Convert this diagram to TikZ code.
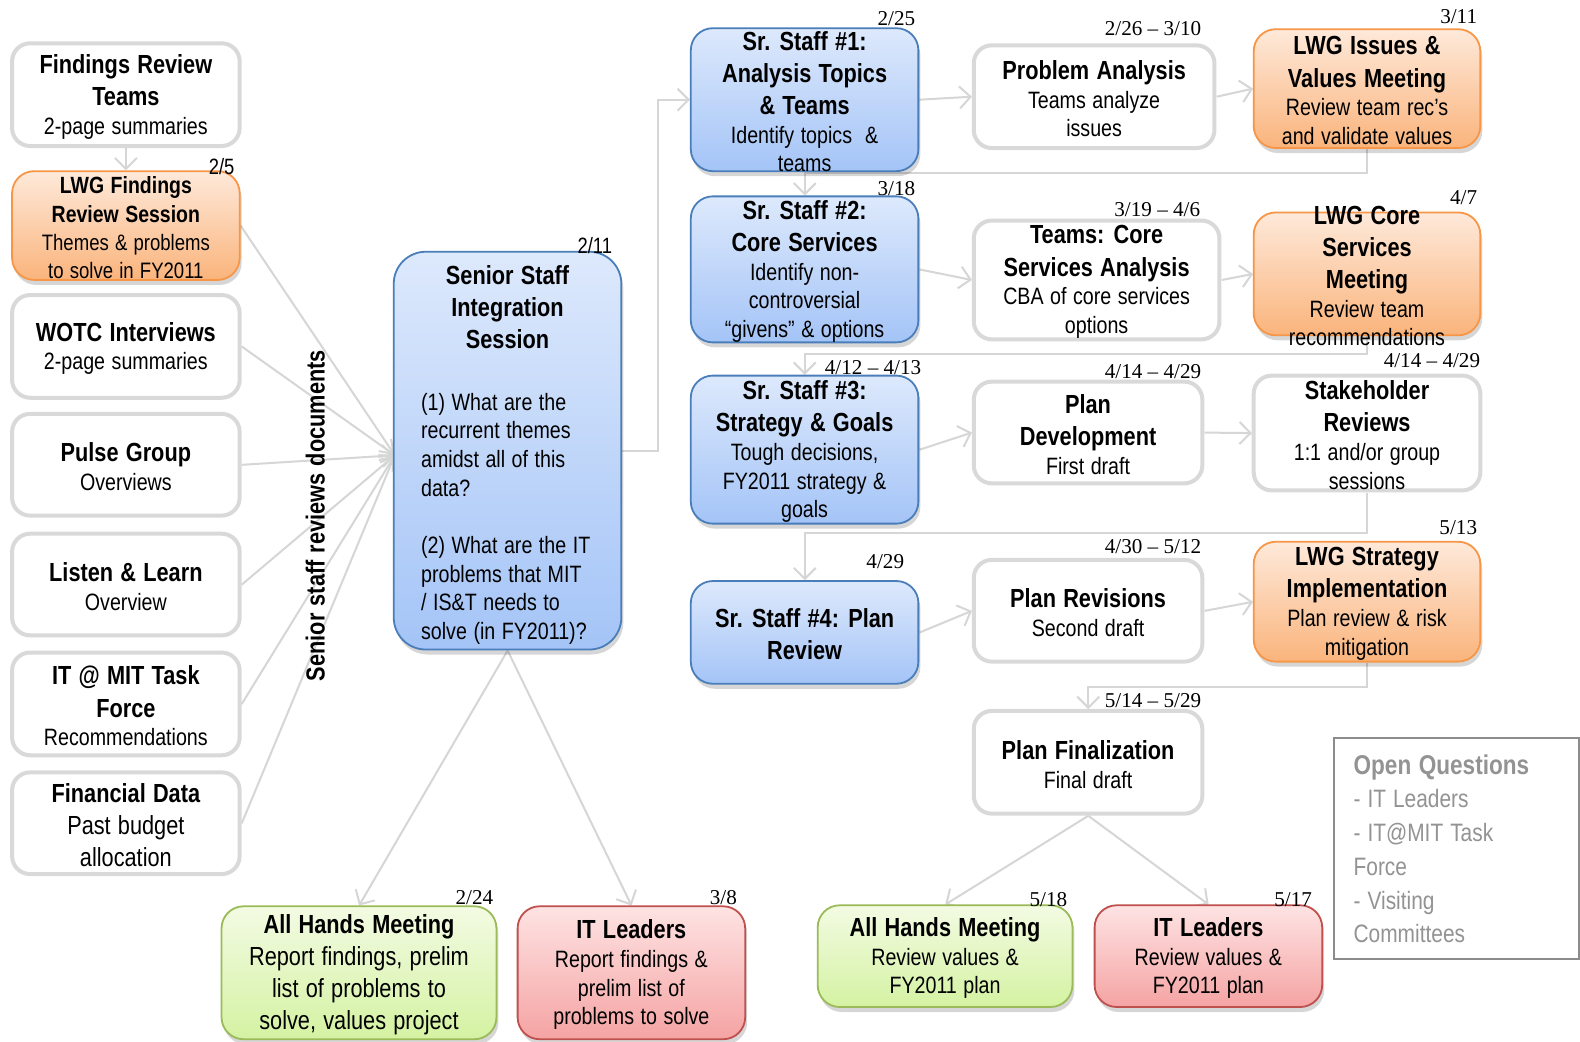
\documentclass[tikz,border=0pt]{standalone}
\usepackage{fontspec}
\setmainfont[FakeStretch=0.83,WordSpace=1.2]{Liberation Sans}
\newfontfamily\datefont{Liberation Serif}
\usetikzlibrary{arrows.meta,shadows,backgrounds}
\setlength\parindent{0pt}
\setlength\parskip{0pt}
\definecolor{wline}{HTML}{D9D9D9}
\definecolor{linegray}{HTML}{D6D6D6}
\definecolor{bline}{HTML}{4A7EBB}
\definecolor{btop}{HTML}{DDE9FC}
\definecolor{bbot}{HTML}{A4C4F7}
\definecolor{oline}{HTML}{F79646}
\definecolor{otop}{HTML}{FEE9DA}
\definecolor{obot}{HTML}{FAB47C}
\definecolor{gline}{HTML}{9BBB59}
\definecolor{gtop}{HTML}{F3FBE3}
\definecolor{gbot}{HTML}{D4F2A2}
\definecolor{rline}{HTML}{C0504D}
\definecolor{rtop}{HTML}{FEE3E3}
\definecolor{rbot}{HTML}{F5A3A3}
\definecolor{oqline}{HTML}{8C8C8C}
\definecolor{oqtext}{HTML}{939393}
\newcommand\Ttl{\fontsize{26}{32}\selectfont\bfseries}
\newcommand\Sbt{\fontsize{23.5}{28.5}\selectfont\mdseries}
\newcommand\bx[7]{%
  \node[#1,minimum width=#5pt,minimum height=#6pt] (#2) at (#3,#4) {};
  \node[txt] (#2t) at (#3,{#4+2}) {#7};}
\begin{document}
\begin{tikzpicture}[x=1pt,y=-1pt,scale=1.007,every node/.append style={transform shape},
  wbox/.style={draw=wline,line width=4pt,fill=white,rounded corners=18pt,inner sep=0pt},
  cbox/.style={line width=1.8pt,rounded corners=22pt,inner sep=0pt,
    drop shadow={shadow xshift=2pt,shadow yshift=-5pt,opacity=0.16,fill=black}},
  bbox/.style={cbox,draw=bline,top color=btop,bottom color=bbot},
  obox/.style={cbox,draw=oline,top color=otop,bottom color=obot},
  gbox/.style={cbox,draw=gline,top color=gtop,bottom color=gbot},
  rbox/.style={cbox,draw=rline,top color=rtop,bottom color=rbot},
  txt/.style={text width=320pt,align=flush center,inner sep=0pt},
  datelbl/.style={anchor=base east,inner sep=0pt,font=\datefont\fontsize{21}{25}\selectfont},
  sdatelbl/.style={anchor=base east,inner sep=0pt,font=\fontsize{22}{26}\selectfont},
  conn/.style={draw=linegray,line width=2pt,-{Straight Barb[length=11pt,width=22pt]}}]
\useasboundingbox (0,0) rectangle (1569.02,1034.76);

% left column
\bx{wbox}{frt}{125}{94}{226}{102}{{\Ttl Findings Review\\Teams\par}{\Sbt 2-page summaries\par}}
\bx{obox}{lwgf}{125}{224}{226}{108}{{\fontsize{23.3}{29}\selectfont\bfseries LWG Findings\\Review Session\par}{\fontsize{22.2}{28}\selectfont Themes \& problems\\to solve in FY2011\par}}
\bx{wbox}{wotc}{125}{344}{226}{102}{{\Ttl WOTC Interviews\par}{\Sbt 2-page summaries\par}}
\bx{wbox}{pulse}{125}{461.5}{226}{101}{{\Ttl Pulse Group\par}{\Sbt Overviews\par}}
\bx{wbox}{listen}{125}{580.5}{226}{101}{{\Ttl Listen \& Learn\par}{\Sbt Overview\par}}
\bx{wbox}{itmit}{125}{699}{226}{102}{{\Ttl IT @ MIT Task\\Force\par}{\Sbt Recommendations\par}}
\bx{wbox}{fin}{125}{817.5}{226}{101}{{\Ttl Financial Data\par}{\fontsize{26}{32}\selectfont Past budget\\allocation\par}}

\node[rotate=90,font=\Ttl,inner sep=0pt] (srd) at (313,512) {Senior staff reviews documents};

% senior staff integration
\node[bbox,rounded corners=32pt,minimum width=226pt,minimum height=395pt] (ss) at (504,447.5) {};
\node[txt] (sst) at (504,305) {{\Ttl Senior Staff\\Integration\\Session\par}};
\node[anchor=north west,text width=200pt,align=flush left,inner sep=0pt,font=\Sbt] (ssq) at (418,390)
  {(1) What are the\\recurrent themes\\amidst all of this\\data?\\[28.5pt](2) What are the IT\\problems that MIT\\/ IS\&T needs to\\solve (in FY2011)?};

% senior staff sessions
\bx{bbox}{sr1}{799}{99}{226}{142}{{\Ttl Sr. Staff \#1:\\Analysis Topics\\\& Teams\par}{\Sbt Identify topics ~\&\\teams\par}}
\bx{bbox}{sr2}{799}{267.5}{226}{145}{{\Ttl Sr. Staff \#2:\\Core Services\par}{\Sbt Identify non-\\controversial\\“givens” \& options\par}}
\bx{bbox}{sr3}{799}{446.5}{226}{147}{{\Ttl Sr. Staff \#3:\\Strategy \& Goals\par}{\Sbt Tough decisions,\\FY2011 strategy \&\\goals\par}}
\bx{bbox}{sr4}{799}{628}{226}{102}{{\Ttl Sr. Staff \#4: Plan\\Review\par}}

% team work
\bx{wbox}{pa}{1086.5}{96}{239}{102}{{\Ttl Problem Analysis\par}{\Sbt Teams analyze\\issues\par}}
\bx{wbox}{tcs}{1089}{278}{244}{118}{{\Ttl Teams: Core\\Services Analysis\par}{\Sbt CBA of core services\\options\par}}
\bx{wbox}{pd}{1080.5}{429.5}{227}{101}{{\Ttl Plan\\Development\par}{\Sbt First draft\par}}
\bx{wbox}{pr}{1080.5}{606.5}{227}{101}{{\Ttl Plan Revisions\par}{\Sbt Second draft\par}}
\bx{wbox}{pf}{1080.5}{757}{227}{102}{{\Ttl Plan Finalization\par}{\Sbt Final draft\par}}

% LWG / stakeholders
\bx{obox}{lwgi}{1357.5}{88}{225}{118}{{\Ttl LWG Issues \&\\Values Meeting\par}{\Sbt Review team rec’s\\and validate values\par}}
\bx{obox}{lwgc}{1357.5}{272}{225}{122}{{\Ttl LWG Core\\Services\\Meeting\par}{\Sbt Review team\\recommendations\par}}
\bx{wbox}{sth}{1357.5}{430}{225}{114}{{\Ttl Stakeholder\\Reviews\par}{\Sbt 1:1 and/or group\\sessions\par}}
\bx{obox}{lwgs}{1357.5}{597.5}{225}{119}{{\Ttl LWG Strategy\\Implementation\par}{\Sbt Plan review \& risk\\mitigation\par}}

% bottom row
\bx{gbox}{ah1}{356.5}{966}{273}{132}{{\Ttl All Hands Meeting\par}{\fontsize{26}{32}\selectfont Report findings, prelim\\list of problems to\\solve, values project\par}}
\bx{rbox}{itl1}{627}{966}{226}{132}{{\Ttl IT Leaders\par}{\Sbt Report findings \&\\prelim list of\\problems to solve\par}}
\bx{gbox}{ah2}{938.5}{949.5}{253}{101}{{\Ttl All Hands Meeting\par}{\Sbt Review values \&\\FY2011 plan\par}}
\bx{rbox}{itl2}{1200}{949.5}{226}{101}{{\Ttl IT Leaders\par}{\Sbt Review values \&\\FY2011 plan\par}}

% open questions
\node[draw=oqline,line width=2pt,minimum width=243pt,minimum height=219pt,inner sep=0pt] (oq) at (1446.5,842.5) {};
\node[anchor=north west,text width=210pt,align=flush left,inner sep=0pt,text=oqtext,
  font=\fontsize{25}{33.5}\selectfont] (oqt) at (1344,749)
  {{\bfseries\fontsize{27}{33.5}\selectfont Open Questions}\\- IT Leaders\\- IT@MIT Task\\Force\\- Visiting\\Committees};

% dates
\node[sdatelbl] (d1) at (233,173) {2/5};
\node[sdatelbl] (d2) at (608,252) {2/11};
\node[datelbl] (d3) at (909,25) {2/25};
\node[datelbl] (d4) at (909,194) {3/18};
\node[datelbl] (d5) at (915,372) {4/12 – 4/13};
\node[datelbl] (d6) at (898,565) {4/29};
\node[datelbl] (d7) at (1193,35) {2/26 – 3/10};
\node[datelbl] (d8) at (1192,215) {3/19 – 4/6};
\node[datelbl] (d9) at (1193,376) {4/14 – 4/29};
\node[datelbl] (d10) at (1193,550) {4/30 – 5/12};
\node[datelbl] (d11) at (1193,703) {5/14 – 5/29};
\node[datelbl] (d12) at (1467,23) {3/11};
\node[datelbl] (d13) at (1467,203) {4/7};
\node[datelbl] (d14) at (1470,365) {4/14 – 4/29};
\node[datelbl] (d15) at (1467,531) {5/13};
\node[datelbl] (d16) at (490,898) {2/24};
\node[datelbl] (d17) at (732,898) {3/8};
\node[datelbl] (d18) at (1060,900) {5/18};
\node[datelbl] (d19) at (1303,900) {5/17};

% connectors
\begin{pgfonlayer}{background}
\fill[white] (0,0) rectangle (1569.02,1034.76);
\coordinate (ssin) at (392,452);
\foreach \n in {lwgf,wotc,pulse,listen,itmit,fin} {\draw[conn] (\n.east) -- (ssin);}
\draw[conn] (frt.south) -- (lwgf.north);
\draw[conn] (ss.east) -- ++(35,0) |- (sr1.west);
\draw[conn] (ss.south) -- (ah1.north);
\draw[conn] (ss.south) -- (itl1.north);
\draw[conn] (sr1.east) -- (pa.west);
\draw[conn] (pa.east) -- (lwgi.west);
\draw[conn] (lwgi.south) -- ++(0,24) -| (sr2.north);
\draw[conn] (sr2.east) -- (tcs.west);
\draw[conn] (tcs.east) -- (lwgc.west);
\draw[conn] (lwgc.south) -- ++(0,18) -| (sr3.north);
\draw[conn] (sr3.east) -- (pd.west);
\draw[conn] (pd.east) -- (sth.west);
\draw[conn] (sth.south) -- ++(0,40) -| (sr4.north);
\draw[conn] (sr4.east) -- (pr.west);
\draw[conn] (pr.east) -- (lwgs.west);
\draw[conn] (lwgs.south) -- ++(0,24) -| (pf.north);
\draw[conn] (pf.south) -- (ah2.north);
\draw[conn] (pf.south) -- (itl2.north);
\end{pgfonlayer}
\end{tikzpicture}
\end{document}
